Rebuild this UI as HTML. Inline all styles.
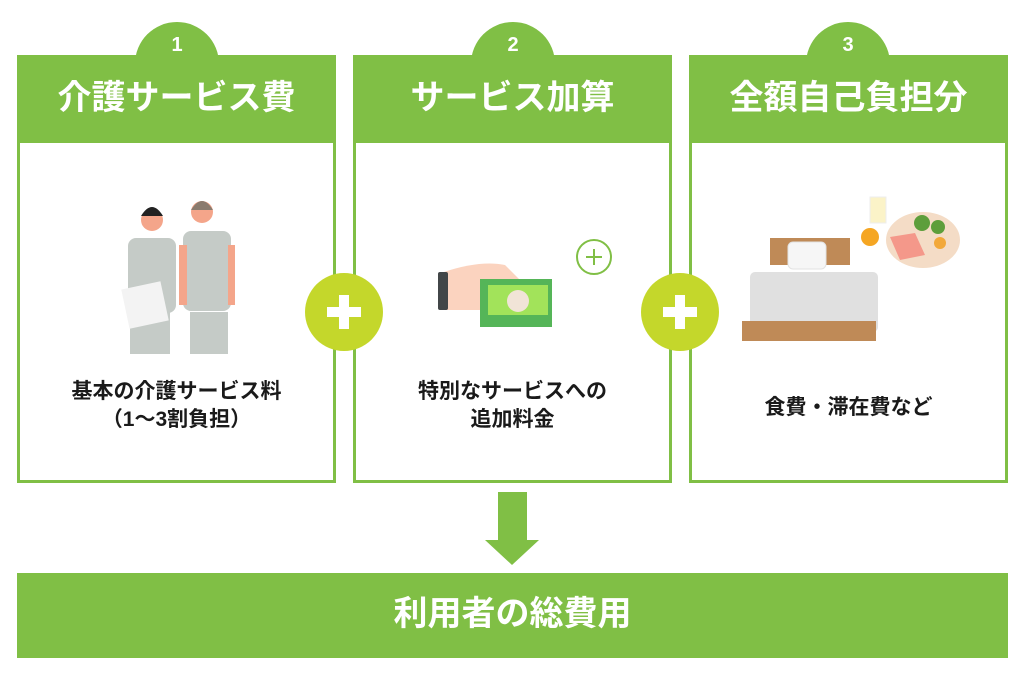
<!DOCTYPE html>
<html><head><meta charset="utf-8"><style>
body{margin:0;width:1025px;height:683px;background:#fff;position:relative;overflow:hidden;font-family:"Liberation Sans","Noto Sans CJK JP",sans-serif;}
.a{position:absolute}
.panel{position:absolute;top:55px;width:313px;height:425px;border:3px solid #80bf45;border-top:none;background:#fff}
.head{position:absolute;top:55px;height:88px;background:#80bf45;color:#fff;font-weight:bold;font-size:34px;text-align:center;line-height:86px}
.tab{position:absolute;top:22px;width:84px;height:84px;border-radius:50%;background:#80bf45;color:#fff;font-weight:bold;font-size:20px;text-align:center;line-height:46px}
.txt{position:absolute;width:319px;text-align:center;font-weight:bold;font-size:21px;line-height:28px;color:#1a1a1a}
.plus{position:absolute;top:273px;width:78px;height:78px;border-radius:50%;background:#c4d72b}
.plus:before{content:"";position:absolute;left:22px;top:34px;width:34px;height:10px;background:#fff}
.plus:after{content:"";position:absolute;left:34px;top:22px;width:10px;height:34px;background:#fff}
</style></head><body>
<div class="tab" style="left:135px">1</div>
<div class="tab" style="left:471px">2</div>
<div class="tab" style="left:806px">3</div>
<div class="panel" style="left:17px"></div>
<div class="panel" style="left:353px"></div>
<div class="panel" style="left:689px"></div>
<div class="head" style="left:17px;width:319px">介護サービス費</div>
<div class="head" style="left:353px;width:319px">サービス加算</div>
<div class="head" style="left:689px;width:319px">全額自己負担分</div>
<div class="plus" style="left:305px"></div>
<div class="plus" style="left:641px"></div>

<svg class="a" style="left:120px;top:190px" width="120" height="170">
<circle cx="32" cy="30" r="11" fill="#f4a58a"/><path d="M21 26 Q32 8 43 26 Z" fill="#222"/>
<circle cx="82" cy="22" r="11" fill="#f4a58a"/><path d="M71 20 Q82 2 93 20 Z" fill="#8a7b6e"/>
<rect x="8" y="48" width="48" height="75" rx="8" fill="#c5cbc7"/>
<rect x="63" y="41" width="48" height="80" rx="8" fill="#c5cbc7"/>
<rect x="10" y="122" width="40" height="42" fill="#c5cbc7"/>
<rect x="70" y="122" width="38" height="42" fill="#c5cbc7"/>
<rect x="5" y="95" width="40" height="40" fill="#f3f3f3" transform="rotate(-12 25 115)"/>
<rect x="59" y="55" width="8" height="60" fill="#f4a58a"/><rect x="108" y="55" width="7" height="60" fill="#f4a58a"/>
</svg>

<svg class="a" style="left:430px;top:230px" width="190" height="100">
<circle cx="164" cy="27" r="17" fill="none" stroke="#80bf45" stroke-width="2"/>
<path d="M164 19v16M156 27h16" stroke="#80bf45" stroke-width="2"/>
<path d="M14 42 Q50 30 75 35 L95 55 L80 80 L14 80 Z" fill="#fbd3bf"/>
<rect x="8" y="42" width="10" height="38" rx="2" fill="#424648"/>
<rect x="50" y="49" width="72" height="48" fill="#55b558"/>
<rect x="58" y="55" width="60" height="30" fill="#a2e35a"/>
<circle cx="88" cy="71" r="11" fill="#f1e4d7"/>
</svg>

<svg class="a" style="left:740px;top:195px" width="220" height="150">
<rect x="30" y="43" width="80" height="27" fill="#bf8a57"/>
<rect x="48" y="47" width="38" height="27" rx="5" fill="#f6f6f6" stroke="#e2e2e2"/>
<rect x="10" y="77" width="128" height="60" rx="5" fill="#e0e0e0"/>
<rect x="2" y="126" width="134" height="20" fill="#bf8a57"/>
<circle cx="130" cy="42" r="9" fill="#f5a623"/>
<rect x="130" y="2" width="16" height="26" fill="#fbf3c8" stroke="#eee"/>
<ellipse cx="183" cy="45" rx="37" ry="28" fill="#f4dcc6"/>
<path d="M150 42 L175 38 L185 60 L160 65 Z" fill="#f4988a"/>
<circle cx="182" cy="28" r="8" fill="#5d9e3b"/><circle cx="198" cy="32" r="7" fill="#5d9e3b"/>
<circle cx="200" cy="48" r="6" fill="#f2a83a"/>
</svg>

<div class="txt" style="left:17px;top:378px">基本の介護サービス料<br>（1〜3割負担）</div>
<div class="txt" style="left:353px;top:378px">特別なサービスへの<br>追加料金</div>
<div class="txt" style="left:689px;top:394px">食費・滞在費など</div>

<div class="a" style="left:498px;top:492px;width:29px;height:49px;background:#80bf45"></div>
<div class="a" style="left:485px;top:540px;width:0;height:0;border-left:27px solid transparent;border-right:27px solid transparent;border-top:25px solid #80bf45"></div>
<div class="a" style="left:17px;top:573px;width:991px;height:85px;background:#80bf45;color:#fff;font-weight:bold;font-size:34px;text-align:center;line-height:83px">利用者の総費用</div>
</body></html>
